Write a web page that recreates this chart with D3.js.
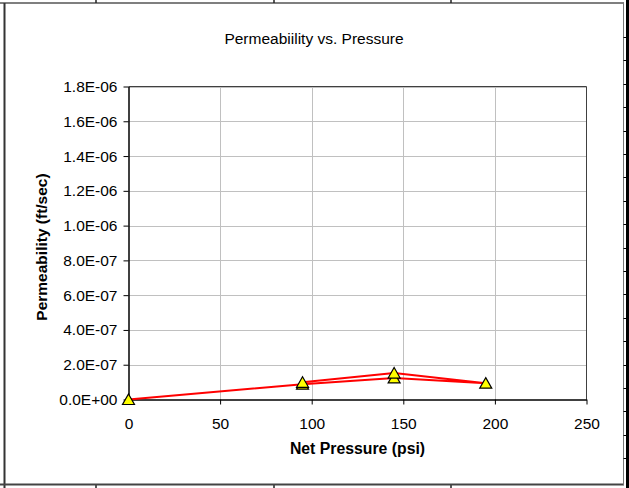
<!DOCTYPE html>
<html>
<head>
<meta charset="utf-8">
<script src="https://cdn.jsdelivr.net/npm/d3@7"></script>
<style>
  html, body { margin: 0; padding: 0; background: #fff; }
  svg { display: block; }
  text { font-family: "Liberation Sans", Arial, sans-serif; fill: #000; }
</style>
</head>
<body>
<svg id="chart" width="629" height="488"></svg>
<script>
// Net pressure (psi) and measured permeability (ft/sec), loading then unloading
const pressure = [0, 95, 145, 195, 145, 95];
const permeability = [0, 8.8e-8, 1.24e-7, 9.4e-8, 1.52e-7, 9.9e-8];

const xTicks = [0, 50, 100, 150, 200, 250];
const yTicks = [0, 2e-7, 4e-7, 6e-7, 8e-7, 1.0e-6, 1.2e-6, 1.4e-6, 1.6e-6, 1.8e-6];

const chartTitle = "Permeabiility vs. Pressure";
const xTitle = "Net Pressure (psi)";
const yTitle = "Permeability (ft/sec)";

const svg = d3.select("#chart");
const W = 629, H = 488;

// plot area
const plot = { left: 128.5, right: 586.5, top: 86.5, bottom: 399.5 };

const x = d3.scaleLinear().domain([0, 250]).range([plot.left, plot.right]);
const y = d3.scaleLinear().domain([0, 1.8e-6]).range([plot.bottom, plot.top]);

// sheet frame around the embedded chart
const frame = svg.append("g");
frame.append("rect").attr("x", 0).attr("y", 0).attr("width", W).attr("height", H).attr("fill", "#fff");
frame.append("line").attr("x1", 0).attr("x2", 624).attr("y1", 3).attr("y2", 3)
  .attr("stroke", "#555").attr("stroke-width", 1.5);
[96, 274, 451].forEach(cx => {
  frame.append("line").attr("x1", cx).attr("x2", cx).attr("y1", 0).attr("y2", 3)
    .attr("stroke", "#222").attr("stroke-width", 1.5);
  frame.append("line").attr("x1", cx).attr("x2", cx).attr("y1", 485).attr("y2", 488)
    .attr("stroke", "#222").attr("stroke-width", 1.5);
});
frame.append("line").attr("x1", 4.5).attr("x2", 4.5).attr("y1", 3).attr("y2", H)
  .attr("stroke", "#333").attr("stroke-width", 2);
frame.append("line").attr("x1", 0).attr("x2", 624).attr("y1", 484.5).attr("y2", 484.5)
  .attr("stroke", "#444").attr("stroke-width", 2);
frame.append("line").attr("x1", 623.5).attr("x2", 623.5).attr("y1", 3).attr("y2", 485)
  .attr("stroke", "#777").attr("stroke-width", 1);
frame.append("rect").attr("x", 626).attr("y", 0).attr("width", 3).attr("height", H).attr("fill", "#000");
d3.range(37, 475, 23.4).forEach(ty => {
  frame.append("line").attr("x1", 623.5).attr("x2", 626).attr("y1", Math.round(ty) + 0.5).attr("y2", Math.round(ty) + 0.5)
    .attr("stroke", "#000").attr("stroke-width", 1);
});

// title
svg.append("text").attr("x", 314).attr("y", 44).attr("text-anchor", "middle")
  .attr("font-size", 15.5).text(chartTitle);

// gridlines
const grid = svg.append("g");
grid.selectAll("line.h").data(yTicks.filter(v => v > 0)).join("line")
  .attr("x1", plot.left).attr("x2", plot.right)
  .attr("y1", d => Math.round(y(d)) + 0.5).attr("y2", d => Math.round(y(d)) + 0.5)
  .attr("stroke", "#c0c0c0").attr("stroke-width", 1);
grid.selectAll("line.v").data(xTicks.filter(v => v > 0 && v < 250)).join("line")
  .attr("y1", plot.top).attr("y2", plot.bottom)
  .attr("x1", d => Math.round(x(d)) + 0.5).attr("x2", d => Math.round(x(d)) + 0.5)
  .attr("stroke", "#c0c0c0").attr("stroke-width", 1);

// plot area border (top and right)
svg.append("path")
  .attr("d", `M${plot.left},${plot.top}H${plot.right}V${plot.bottom}`)
  .attr("fill", "none").attr("stroke", "#404040").attr("stroke-width", 1);

// axes
const sciFormat = v => {
  const s = d3.format(".1e")(v);
  const [m, e] = s.split("e");
  const n = parseInt(e, 10);
  return m + "E" + (n < 0 ? "-" : "+") + String(Math.abs(n)).padStart(2, "0");
};

const xAxis = svg.append("g").attr("transform", `translate(0,${plot.bottom})`)
  .call(d3.axisBottom(x).tickValues(xTicks).tickSize(5).tickSizeOuter(0).tickPadding(13).tickFormat(d3.format("d")));
const yAxis = svg.append("g").attr("transform", `translate(${plot.left},0)`)
  .call(d3.axisLeft(y).tickValues(yTicks).tickSize(5).tickSizeOuter(0).tickPadding(6).tickFormat(sciFormat));

[xAxis, yAxis].forEach(a => {
  a.select(".domain").attr("stroke", "#000").attr("stroke-width", 1.5);
  a.selectAll(".tick line").attr("stroke", "#000").attr("stroke-width", 1);
  a.selectAll(".tick text").attr("font-size", 15.5)
    .attr("font-family", '"Liberation Sans", Arial, sans-serif').attr("fill", "#000");
});

// axis titles
svg.append("text").attr("x", (plot.left + plot.right) / 2).attr("y", 454)
  .attr("text-anchor", "middle").attr("font-size", 15.8).attr("font-weight", "bold").text(xTitle);
svg.append("text").attr("transform", `translate(47,247) rotate(-90)`)
  .attr("text-anchor", "middle").attr("font-size", 15.5).attr("font-weight", "bold").text(yTitle);

// series line and markers
const pts = pressure.map((p, i) => ({ p, k: permeability[i] }));
svg.append("path").datum(pts)
  .attr("d", d3.line().x(d => x(d.p)).y(d => y(d.k)))
  .attr("fill", "none").attr("stroke", "#ff0000").attr("stroke-width", 2).attr("stroke-linejoin", "round");

const tri = (cx, cy) => `M${cx},${cy - 5.5}L${cx + 6},${cy + 5}L${cx - 6},${cy + 5}Z`;
svg.selectAll("path.marker").data(pts).join("path").attr("class", "marker")
  .attr("d", d => tri(x(d.p), y(d.k)))
  .attr("fill", "#ffff00").attr("stroke", "#000").attr("stroke-width", 1.2);
</script>
</body>
</html>
